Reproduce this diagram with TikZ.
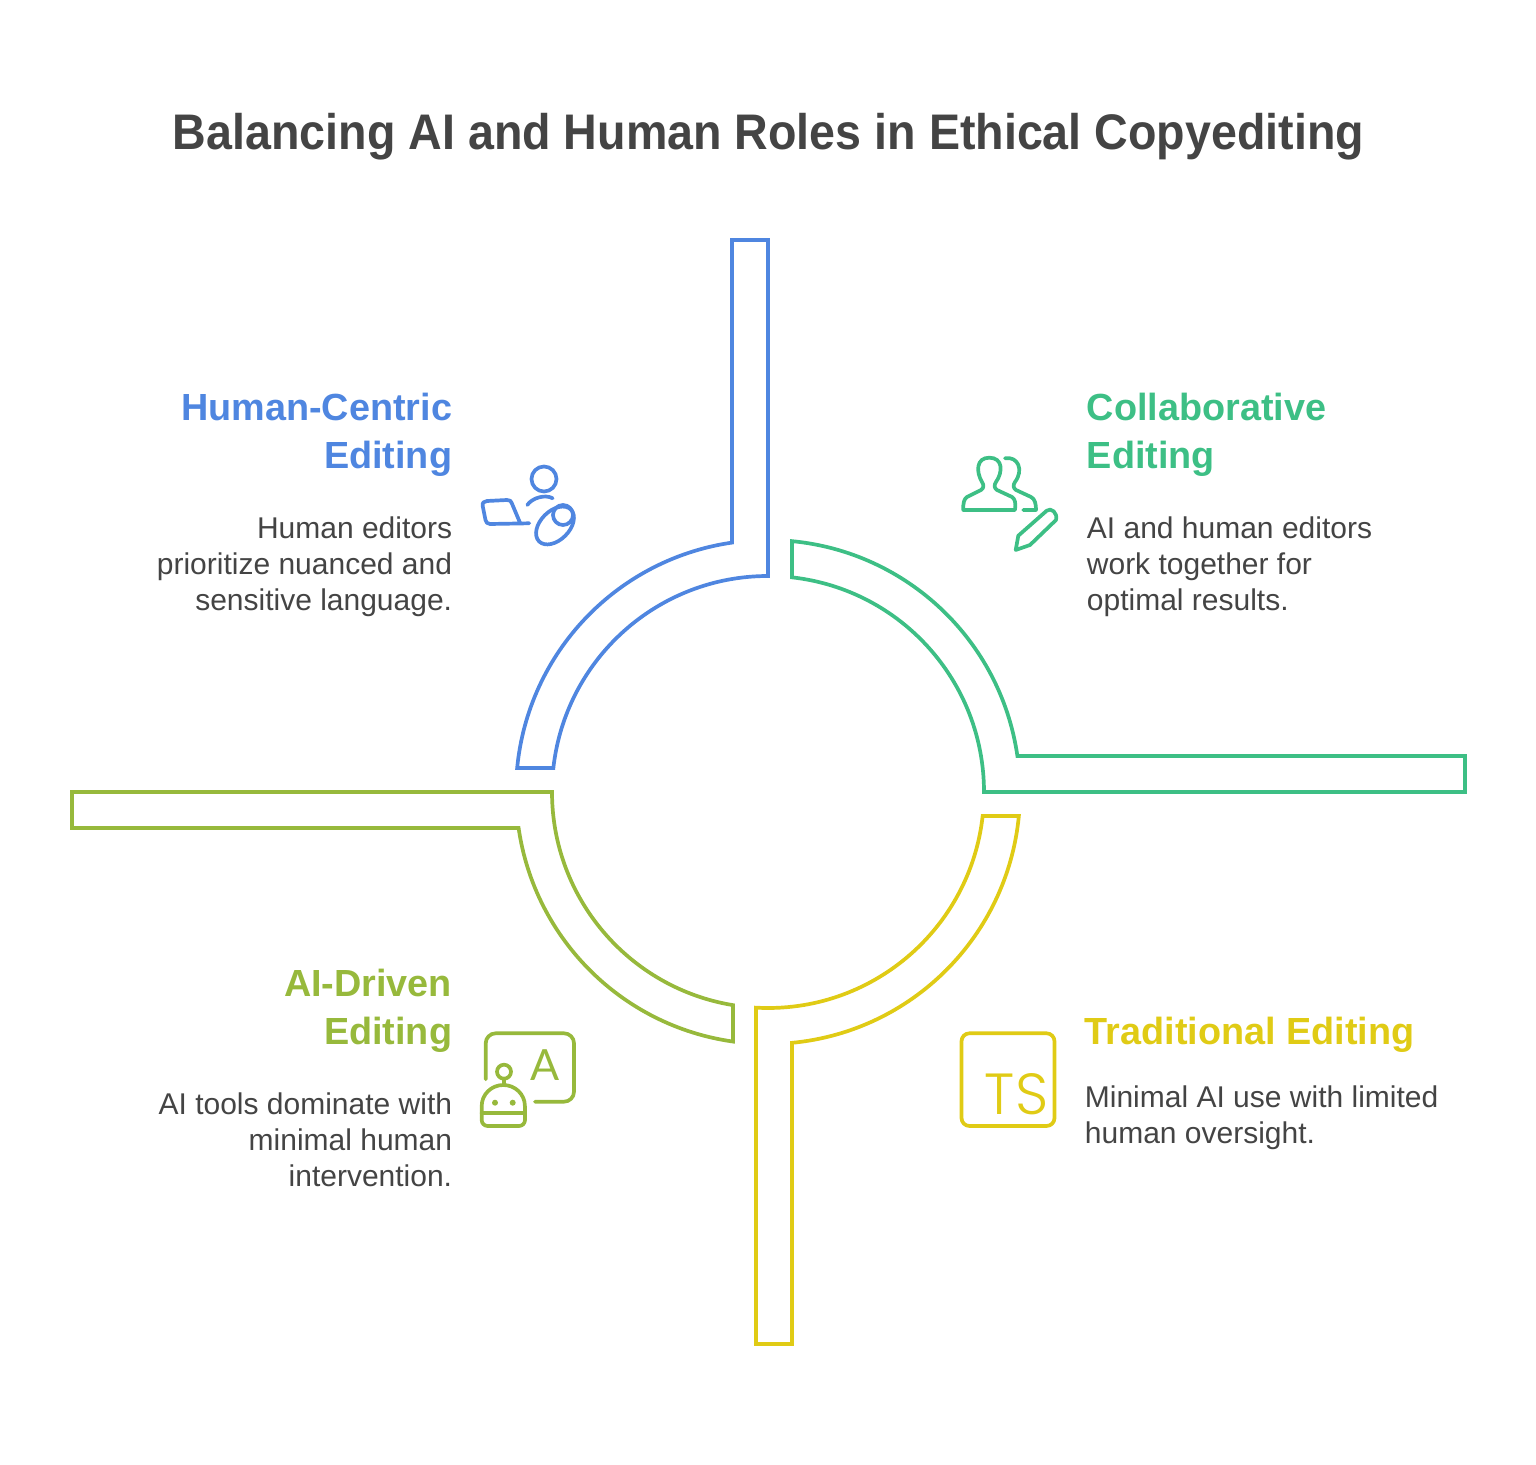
\documentclass[tikz,border=0pt]{standalone}
\usepackage{fontspec}
\setmainfont{Liberation Sans}
\newfontfamily\titlefont[FakeStretch=0.932]{Liberation Sans}
\newfontfamily\thinfont{Poppins Light}
\newfontfamily\glyphfont{Lato}
\usetikzlibrary{positioning,calc}

\definecolor{bluec}{HTML}{4F86E0}
\definecolor{greenc}{HTML}{3DBF85}
\definecolor{yellowc}{HTML}{E0CB15}
\definecolor{olivec}{HTML}{97B93C}
\definecolor{textc}{HTML}{444444}

\begin{document}
\begin{tikzpicture}[x=0.5pt,y=0.5pt,line join=round,line cap=round]
	\tikzstyle{ring}=[line width=1.85pt,line cap=butt,line join=miter]
	\tikzstyle{icon}=[line width=1.85pt]
	\tikzstyle{head}=[font=\fontsize{18.9}{24}\selectfont\bfseries,inner sep=0pt]
	\tikzstyle{body}=[font=\fontsize{15}{18}\selectfont,text=textc,inner sep=0pt]

	\useasboundingbox (0,0) rectangle (1536,1464);
	\coordinate (C) at (768,672);

	\node[font=\fontsize{25}{30}\selectfont\titlefont\bfseries,text=textc,inner sep=0pt] (title) at (768.5,1327) {Balancing AI and Human Roles in Ethical Copyediting};

	% the four ring pieces
	\draw[ring,bluec] (732,1224) -- (768,1224) -- (768,888) arc[start angle=90,end angle=173.62,radius=216]
		-- ($(C)+(174.53:252)$) arc[start angle=174.53,end angle=98.21,radius=252] -- cycle;
	\draw[ring,greenc] (984,672) -- (1465,672) -- (1465,707.98) -- ($(C)+(8.21:252)$) arc[start angle=8.21,end angle=84.53,radius=252]
		-- ($(C)+(83.62:216)$) arc[start angle=83.62,end angle=0,radius=216] -- cycle;
	\draw[ring,yellowc] (756,120) -- (792,120) -- ($(C)+(-84.535:252)$) arc[start angle=-84.535,end angle=-5.47,radius=252]
		-- ($(C)+(-6.38:216)$) arc[start angle=-6.38,end angle=-93.18,radius=216] -- cycle;
	\draw[ring,olivec] (552,672) -- (72,672) -- (72,636.02) -- ($(C)+(188.21:252)$) arc[start angle=188.21,end angle=262.02,radius=252]
		-- ($(C)+(260.67:216)$) arc[start angle=260.67,end angle=180,radius=216] -- cycle;

	% texts
	\node[head,bluec,align=right,anchor=north east] (human) at (452.5,1071) {Human-Centric\\Editing};
	\node[body,align=right,below=19.5pt of human.south east,anchor=north east] (humantext) {Human editors\\prioritize nuanced and\\sensitive language.};
	\node[head,greenc,align=left,anchor=north west] (collab) at (1086.5,1071) {Collaborative\\Editing};
	\node[body,align=left,below=19.5pt of collab.south west,anchor=north west] (collabtext) {AI and human editors\\work together for\\optimal results.};
	\node[head,olivec,align=right,anchor=north east] (aidriven) at (452.5,495) {AI-Driven\\Editing};
	\node[body,align=right,below=19.5pt of aidriven.south east,anchor=north east] (aitext) {AI tools dominate with\\minimal human\\intervention.};
	\node[head,yellowc,align=left,anchor=north west] (trad) at (1084.5,447) {Traditional Editing};
	\node[body,align=left,below=16pt of trad.south west,anchor=north west] (tradtext) {Minimal AI use with limited\\human oversight.};

	\begin{scope}[shift={(0,1464)},yscale=-1]
		% person, laptop, baby
		\draw[icon,bluec] (544,479) circle (12.5);
		\draw[icon,bluec] (527.3,505) .. controls (532,498) and (545,494) .. (552.7,498.3);
		\draw[icon,bluec] (529.3,523.3) -- (490,524) .. controls (487,524) and (486,522) .. (485.5,520) -- (482.7,506) .. controls (482,503) and (484,501) .. (487,501)
			-- (507,500) .. controls (510,500) and (511,501) .. (511.7,503) -- (520,522.7);
		\draw[icon,bluec,rotate around={-45:(555,525.5)}] (555,525.5) ellipse (22.5 and 14.5);
		\draw[icon,bluec] (563,515) circle (10);
		% two people and a pencil
		\draw[icon,greenc] (963.3,510) -- (1015,510) .. controls (1016,503) and (1015,499) .. (1012,497) -- (997,490) .. controls (994,488) and (994,485) .. (996,482)
			.. controls (1003,472) and (1003,457.7) .. (989.3,457.7) .. controls (976,457.7) and (976,472) .. (982,482) .. controls (984,485) and (984,488) .. (981,490)
			-- (967,497) .. controls (964,499) and (963,503) .. (963.3,510) -- cycle;
		\draw[icon,greenc] (1005,458.3) .. controls (1018,456) and (1024,470) .. (1015,482) .. controls (1013,485) and (1013,488) .. (1016,490)
			-- (1031,497) .. controls (1035,499) and (1036,504) .. (1036,510) -- (1023.3,510);
		\draw[icon,greenc] (1015.7,550) -- (1018.3,535.7) -- (1046.7,510.7) .. controls (1051,507) and (1058,513) .. (1056,520) -- (1030,545) -- cycle;
		% board and robot
		\draw[icon,olivec,rounded corners=5] (485.7,1079.3) -- (485.7,1033.3) -- (574,1033.3) -- (574,1101.7) -- (535,1101.7);
		\draw[icon,olivec] (504,1071.7) circle (7);
		\draw[icon,olivec] (504,1078.7) -- (504,1085);
		\draw[icon,olivec] (481.7,1113.3) -- (481.7,1106) arc[start angle=180,end angle=360,x radius=21.6,y radius=21] -- (525,1113.3);
		\draw[icon,olivec] (481.7,1113.3) -- (525,1113.3);
		\draw[icon,olivec,rounded corners=3] (481.7,1113.3) -- (481.7,1126) -- (525,1126) -- (525,1113.3);
		\fill[olivec] (495,1102.7) circle (3);
		\fill[olivec] (512.7,1102.7) circle (3);
		% ts box
		\draw[icon,yellowc,rounded corners=4] (961.5,1033.3) rectangle (1054.5,1126);
	\end{scope}
	\node[font=\fontsize{21.5}{24}\selectfont\glyphfont,olivec,inner sep=0pt] (boardletter) at (545,399) {A};
	\node[font=\fontsize{29}{30}\selectfont\thinfont,yellowc,inner sep=0pt] (tsletters) at (1016.5,370) {TS};
\end{tikzpicture}
\end{document}
